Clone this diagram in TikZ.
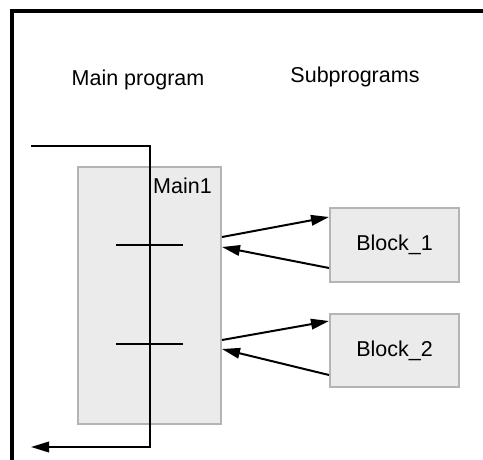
\documentclass[tikz,border=0pt]{standalone}
\usepackage{fontspec}
\setmainfont{Liberation Sans}
\usetikzlibrary{arrows.meta}
\definecolor{boxfill}{HTML}{EBEBEB}
\definecolor{boxline}{HTML}{B4B4B4}
\begin{document}
\begin{tikzpicture}[x=1pt,y=1pt,
  lbl/.style={font=\fontsize{21.5}{25}\selectfont, inner sep=0pt},
  grayblock/.style={draw=boxline, fill=boxfill, line width=2pt, inner sep=0pt, font=\fontsize{21.5}{25}\selectfont},
  conn/.style={line width=2pt, -{Triangle[length=18pt,width=10.5pt]}},
  plain/.style={line width=2pt}]
\useasboundingbox (0,0) rectangle (483,-459);
\fill[white] (0,0) rectangle (483,-459);
% frame
\draw[line width=3.2pt] (12,-475) -- (12,-11) -- (495,-11);
% titles
\node[lbl] (tmain) at (138,-80) {Main program};
\node[lbl] (tsub) at (355,-77) {Subprograms};
% boxes
\node[grayblock, minimum width=143pt, minimum height=257pt] (main) at (149.5,-295.5) {};
\node[lbl, anchor=east] (mainlbl) at (212,-185.5) {Main1};
\node[grayblock, minimum width=129pt, minimum height=74pt] (b1) at (394.5,-245) {Block\_1};
\node[grayblock, minimum width=129pt, minimum height=73pt] (b2) at (394.5,-350.5) {Block\_2};
% flow line
\coordinate (fs) at (31,-146);
\coordinate (ft) at (150,-146);
\coordinate (fb) at (150,-447);
\coordinate (fe) at (31,-447);
\draw[conn] (fs) -- (ft) -- (fb) -- (fe);
% ticks
\draw[plain] (116,-245) -- (183,-245);
\draw[plain] (116,-344) -- (183,-344);
% calls
\draw[conn] ([yshift=58.5pt]main.east) -- ([yshift=28pt]b1.west);
\draw[conn] ([yshift=-23pt]b1.west) -- ([yshift=48.5pt]main.east);
\draw[conn] ([yshift=-44.5pt]main.east) -- ([yshift=29.5pt]b2.west);
\draw[conn] ([yshift=-24.5pt]b2.west) -- ([yshift=-53.5pt]main.east);
\end{tikzpicture}
\end{document}
